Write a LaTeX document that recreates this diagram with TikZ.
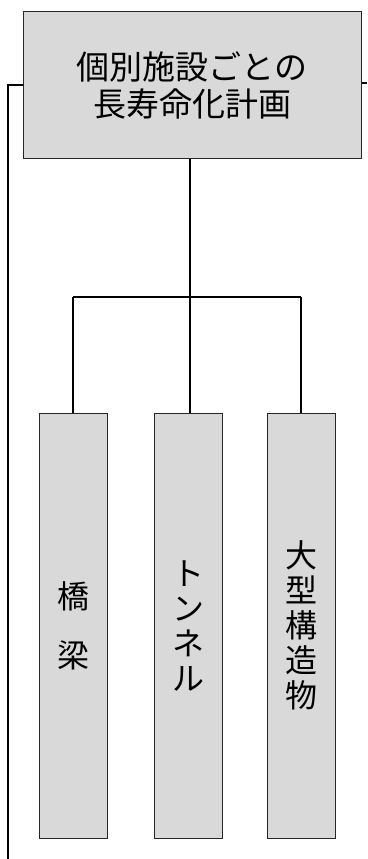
\documentclass[tikz,border=0pt]{standalone}
\usepackage{fontspec}
\setmainfont{Noto Sans CJK JP}
\begin{document}
\begin{tikzpicture}[x=1pt,y=-1pt,
  box/.style={draw=black!85,fill=black!15,line width=1pt,inner sep=0pt,align=center},
  topbox/.style={box,minimum width=338pt,minimum height=146pt,font=\fontsize{33}{37}\selectfont},
  colbox/.style={box,minimum width=68pt,minimum height=425pt,font=\fontsize{32}{35}\selectfont},
  conn/.style={draw=black,line width=1.2pt},
  bar/.style={draw=black,line width=2.4pt}]
\useasboundingbox (0,0) rectangle (367,859);
\node[topbox] (top) at (192,85) {個別施設ごとの\\長寿命化計画};
\node[colbox] (b1) at (73,625.5) {橋\\[24pt]梁};
\node[colbox] (b2) at (188,625.5) {ト\\ン\\ネ\\ル};
\node[colbox] (b3) at (301,625.5) {大\\型\\構\\造\\物};
\coordinate (barL) at (b1.north |- 0,297);
\coordinate (barR) at (b3.north |- 0,297);
\coordinate (lt) at (8,85);
\coordinate (lb) at (8,859);
\coordinate (rt) at (367,83);
\draw[bar] (barL) -- (barR);
\draw[conn] (barL) -- (b1.north);
\draw[conn] (barR) -- (b3.north);
\draw[conn] (top.south -| 190,0) -- (190,413) coordinate (midend);
\draw[conn] (top.west |- lt) -- (lt) -- (lb);
\draw[conn] (top.east |- rt) -- (rt);
\end{tikzpicture}
\end{document}
